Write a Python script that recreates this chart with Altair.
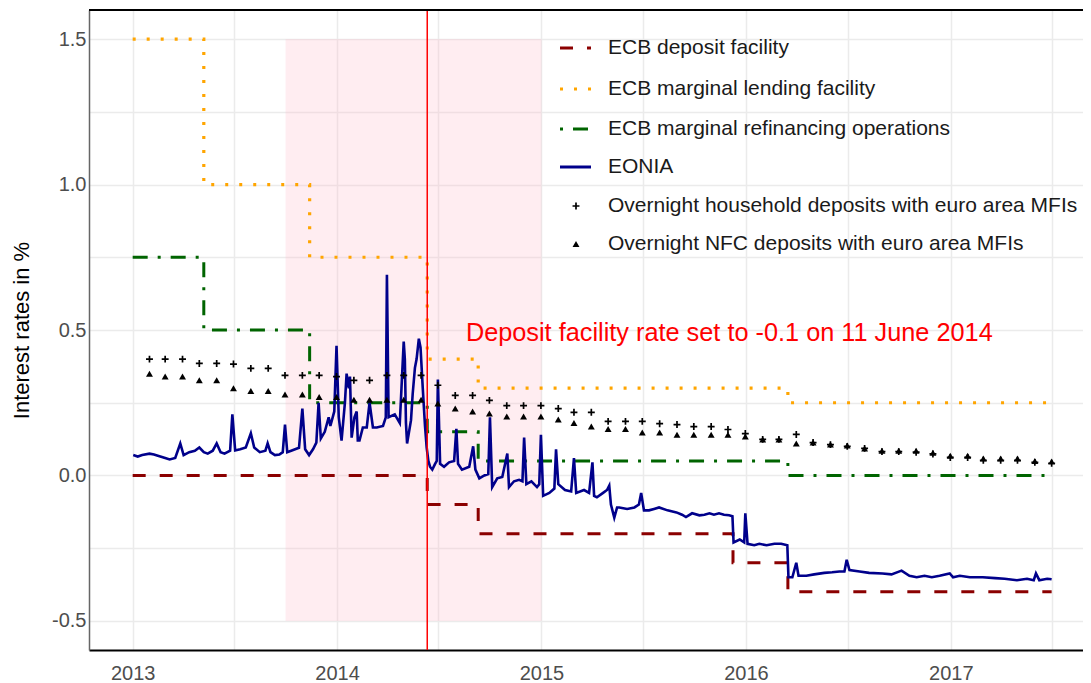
import altair as alt
import pandas as pd

# ---------------- data ----------------
policy_dates = ["2013-01-01", "2013-05-08", "2013-11-13", "2014-06-11",
                "2014-09-10", "2015-12-09", "2016-03-16", "2017-06-30"]
deposit_rate = [0.00, 0.00, 0.00, -0.10, -0.20, -0.30, -0.40, -0.40]
lending_rate = [1.50, 1.00, 0.75, 0.40, 0.30, 0.30, 0.25, 0.25]
mro_rate = [0.75, 0.50, 0.25, 0.15, 0.05, 0.05, 0.00, 0.00]

eonia_dates = [
    "2013-01-02", "2013-01-10", "2013-01-18", "2013-01-31", "2013-02-08", "2013-02-15",
    "2013-02-28", "2013-03-08", "2013-03-18", "2013-03-27", "2013-04-02", "2013-04-12",
    "2013-04-22", "2013-04-30", "2013-05-08", "2013-05-15", "2013-05-24", "2013-05-31",
    "2013-06-07", "2013-06-14", "2013-06-24", "2013-06-28", "2013-07-03", "2013-07-12",
    "2013-07-22", "2013-07-31", "2013-08-06", "2013-08-16", "2013-08-26", "2013-08-30",
    "2013-09-04", "2013-09-12", "2013-09-20", "2013-09-26", "2013-09-30", "2013-10-04",
    "2013-10-11", "2013-10-18", "2013-10-25", "2013-10-31", "2013-11-05", "2013-11-12",
    "2013-11-19", "2013-11-25", "2013-11-29", "2013-12-03", "2013-12-10", "2013-12-17",
    "2013-12-20", "2013-12-27", "2013-12-31", "2014-01-04", "2014-01-09", "2014-01-15",
    "2014-01-18", "2014-01-22", "2014-01-24", "2014-01-27", "2014-02-01", "2014-02-05",
    "2014-02-07", "2014-02-10", "2014-02-16", "2014-02-23", "2014-02-28", "2014-03-06",
    "2014-03-13", "2014-03-24", "2014-03-29", "2014-03-31", "2014-04-03", "2014-04-14",
    "2014-04-23", "2014-04-26", "2014-04-30", "2014-05-02", "2014-05-04", "2014-05-06",
    "2014-05-13", "2014-05-16", "2014-05-20", "2014-05-23", "2014-05-27", "2014-05-30",
    "2014-06-03", "2014-06-07", "2014-06-10", "2014-06-13", "2014-06-16", "2014-06-20",
    "2014-06-25", "2014-06-28", "2014-06-30", "2014-07-04", "2014-07-11", "2014-07-20",
    "2014-07-29", "2014-08-02", "2014-08-05", "2014-08-12", "2014-08-25", "2014-09-01",
    "2014-09-05", "2014-09-12", "2014-09-21", "2014-09-28", "2014-10-01", "2014-10-05",
    "2014-10-14", "2014-10-23", "2014-11-01", "2014-11-04", "2014-11-13", "2014-11-22",
    "2014-11-28", "2014-12-01", "2014-12-05", "2014-12-14", "2014-12-24", "2014-12-28",
    "2014-12-31", "2015-01-04", "2015-01-15", "2015-01-24", "2015-01-27", "2015-01-31",
    "2015-02-12", "2015-02-23", "2015-02-28", "2015-03-04", "2015-03-18", "2015-03-27",
    "2015-04-02", "2015-04-05", "2015-04-10", "2015-04-21", "2015-04-28", "2015-05-02",
    "2015-05-05", "2015-05-11", "2015-05-16", "2015-05-20", "2015-06-03", "2015-06-16",
    "2015-06-24", "2015-06-28", "2015-07-03", "2015-07-12", "2015-07-21", "2015-07-30",
    "2015-08-14", "2015-08-30", "2015-09-09", "2015-09-16", "2015-09-27", "2015-10-10",
    "2015-10-19", "2015-10-28", "2015-11-05", "2015-11-14", "2015-11-23", "2015-12-02",
    "2015-12-08", "2015-12-10", "2015-12-21", "2015-12-29", "2015-12-31", "2016-01-04",
    "2016-01-16", "2016-01-25", "2016-02-07", "2016-02-21", "2016-03-04", "2016-03-15",
    "2016-03-17", "2016-03-24", "2016-03-31", "2016-04-04", "2016-04-18", "2016-05-02",
    "2016-05-20", "2016-06-03", "2016-06-16", "2016-06-25", "2016-06-29", "2016-07-04",
    "2016-07-22", "2016-08-08", "2016-09-01", "2016-09-17", "2016-10-05", "2016-10-19",
    "2016-11-01", "2016-11-15", "2016-11-28", "2016-12-12", "2016-12-30", "2017-01-05",
    "2017-01-17", "2017-02-04", "2017-02-27", "2017-03-21", "2017-04-07", "2017-04-29",
    "2017-05-17", "2017-05-29", "2017-06-02", "2017-06-08", "2017-06-22", "2017-06-30",
]
eonia_values = [
    0.070, 0.065, 0.070, 0.075, 0.072, 0.068,
    0.060, 0.055, 0.060, 0.110, 0.070, 0.080,
    0.085, 0.096, 0.080, 0.075, 0.085, 0.110,
    0.080, 0.075, 0.085, 0.210, 0.086, 0.090,
    0.096, 0.145, 0.096, 0.080, 0.085, 0.110,
    0.080, 0.070, 0.072, 0.080, 0.175, 0.080,
    0.085, 0.090, 0.095, 0.230, 0.090, 0.070,
    0.090, 0.113, 0.250, 0.127, 0.150, 0.200,
    0.170, 0.220, 0.446, 0.200, 0.120, 0.250,
    0.350, 0.300, 0.340, 0.130, 0.200, 0.220,
    0.120, 0.120, 0.165, 0.165, 0.250, 0.165,
    0.165, 0.170, 0.200, 0.690, 0.200, 0.210,
    0.180, 0.300, 0.460, 0.400, 0.180, 0.110,
    0.190, 0.280, 0.370, 0.400, 0.470, 0.440,
    0.300, 0.170, 0.096, 0.050, 0.030, 0.020,
    0.040, 0.050, 0.330, 0.040, 0.030, 0.045,
    0.050, 0.160, 0.040, 0.020, 0.030, 0.100,
    0.020, -0.010, 0.000, 0.005, 0.200, -0.040,
    -0.010, -0.005, 0.075, -0.040, -0.020, -0.015,
    -0.020, 0.130, -0.030, -0.020, -0.040, -0.030,
    0.140, -0.070, -0.060, -0.045, 0.090, -0.030,
    -0.050, -0.055, 0.060, -0.060, -0.050, -0.060,
    0.045, -0.070, -0.075, -0.060, -0.050, -0.035,
    -0.100, -0.145, -0.110, -0.110, -0.115, -0.110,
    -0.100, -0.060, -0.120, -0.120, -0.115, -0.110,
    -0.120, -0.127, -0.135, -0.143, -0.130, -0.137,
    -0.135, -0.130, -0.135, -0.130, -0.135, -0.137,
    -0.140, -0.230, -0.220, -0.230, -0.130, -0.235,
    -0.240, -0.235, -0.240, -0.235, -0.235, -0.240,
    -0.350, -0.350, -0.300, -0.345, -0.345, -0.340,
    -0.335, -0.333, -0.330, -0.330, -0.290, -0.325,
    -0.330, -0.335, -0.337, -0.340, -0.327, -0.345,
    -0.350, -0.345, -0.350, -0.345, -0.337, -0.350,
    -0.345, -0.350, -0.350, -0.353, -0.355, -0.360,
    -0.355, -0.360, -0.337, -0.360, -0.355, -0.357,
]

month_ends = pd.date_range("2013-01-31", periods=54, freq=pd.offsets.MonthEnd())
household_rate = [
    0.400, 0.400, 0.400, 0.385, 0.385, 0.383, 0.368, 0.368, 0.344, 0.344,
    0.344, 0.340, 0.327, 0.327, 0.344, 0.344, 0.344, 0.310, 0.275, 0.275,
    0.258, 0.240, 0.240, 0.240, 0.230, 0.217, 0.217, 0.186, 0.186, 0.186,
    0.178, 0.175, 0.168, 0.168, 0.158, 0.144, 0.124, 0.124, 0.141, 0.113,
    0.106, 0.100, 0.093, 0.082, 0.082, 0.080, 0.074, 0.062, 0.062, 0.052,
    0.052, 0.052, 0.045, 0.042,
]
nfc_rate = [
    0.350, 0.340, 0.340, 0.327, 0.327, 0.300, 0.290, 0.290, 0.278, 0.278,
    0.270, 0.270, 0.260, 0.260, 0.260, 0.260, 0.260, 0.247, 0.230, 0.220,
    0.213, 0.203, 0.203, 0.203, 0.192, 0.180, 0.168, 0.160, 0.160, 0.148,
    0.148, 0.140, 0.140, 0.140, 0.140, 0.134, 0.124, 0.124, 0.110, 0.113,
    0.106, 0.103, 0.093, 0.085, 0.085, 0.085, 0.078, 0.068, 0.068, 0.058,
    0.058, 0.058, 0.050, 0.048,
]

shade_start = ["2013-10-01"]
shade_end = ["2015-01-01"]
shade_low = [-0.5]
shade_high = [1.5]
event_dates = ["2014-06-11"]
note_dates = ["2014-08-19"]
note_values = [0.49]
note_texts = ["Deposit facility rate set to -0.1 on 11 June 2014"]

legend_labels = [
    "ECB deposit facility",
    "ECB marginal lending facility",
    "ECB marginal refinancing operations",
    "EONIA",
    "Overnight household deposits with euro area MFIs",
    "Overnight NFC deposits with euro area MFIs",
]

# ---------------- frames ----------------
pdates = pd.to_datetime(policy_dates)
df_dep = pd.DataFrame({"date": pdates, "value": deposit_rate})
df_len = pd.DataFrame({"date": pdates, "value": lending_rate})
df_mro = pd.DataFrame({"date": pdates, "value": mro_rate})
df_eonia = pd.DataFrame({"date": pd.to_datetime(eonia_dates), "value": eonia_values})
df_hh = pd.DataFrame({"date": month_ends, "value": household_rate})
df_nfc = pd.DataFrame({"date": month_ends, "value": nfc_rate})
df_shade = pd.DataFrame({"start": pd.to_datetime(shade_start), "end": pd.to_datetime(shade_end),
                         "low": shade_low, "high": shade_high})
df_event = pd.DataFrame({"date": pd.to_datetime(event_dates)})
df_note = pd.DataFrame({"date": pd.to_datetime(note_dates), "value": note_values, "text": note_texts})

FONT = "Liberation Sans"
W, H = 994, 640
PLUS = "M-1,0H1M0,-1V1"

x_scale = alt.Scale(domain=[alt.DateTime(year=2012, month=10, date=15),
                            alt.DateTime(year=2017, month=8, date=25)])
y_scale = alt.Scale(domain=[-0.6, 1.6], nice=False, zero=False)

x_ticks = []
for yr in range(2013, 2018):
    x_ticks.append(alt.DateTime(year=yr, month=1, date=1))
    x_ticks.append(alt.DateTime(year=yr, month=7, date=1))

x_axis = alt.Axis(values=x_ticks,
                  labelExpr="month(datum.value) == 0 ? timeFormat(datum.value, '%Y') : ''",
                  ticks=False, tickSize=0, labelPadding=13, labelOverlap=False, labelFlush=False,
                  domainColor="black", domainWidth=2)
y_axis = alt.Axis(values=[-0.5, -0.25, 0, 0.25, 0.5, 0.75, 1.0, 1.25, 1.5],
                  labelExpr="abs(datum.value % 0.5) < 1e-9 ? (datum.value < 0 ? '-' : '') + format(abs(datum.value), '.1f') : ''",
                  ticks=False, tickSize=0, labelPadding=3, labelOverlap=False, labelFlush=False,
                  domainColor="#666666", domainWidth=1.5, titlePadding=18)
Y_TITLE = "Interest rates in %"


def X(field="date"):
    return alt.X(f"{field}:T", scale=x_scale, axis=x_axis, title=None)


def Y(field="value"):
    return alt.Y(f"{field}:Q", scale=y_scale, axis=y_axis, title=Y_TITLE)


shade = alt.Chart(df_shade).mark_rect(color="#FFC0CB", opacity=0.28).encode(
    x=X("start"), x2="end:T", y=Y("low"), y2="high:Q")

dep_line = alt.Chart(df_dep).mark_line(interpolate="step-after", color="#8B0000",
                                       strokeWidth=3, strokeDash=[13, 14]).encode(x=X(), y=Y())
len_line = alt.Chart(df_len).mark_line(interpolate="step-after", color="#FFA500",
                                       strokeWidth=3.2, strokeDash=[3, 11]).encode(x=X(), y=Y())
mro_line = alt.Chart(df_mro).mark_line(interpolate="step-after", color="#006400",
                                       strokeWidth=3, strokeDash=[15, 10, 3, 10]).encode(x=X(), y=Y())
eonia_line = alt.Chart(df_eonia).mark_line(color="#00008B", strokeWidth=2.6).encode(x=X(), y=Y())

hh_pts = alt.Chart(df_hh).mark_point(shape=PLUS, filled=False, color="black", size=48,
                                     strokeWidth=1.7, opacity=1).encode(x=X(), y=Y())
nfc_pts = alt.Chart(df_nfc).mark_point(shape="triangle-up", filled=True, color="black", size=48,
                                       opacity=1).encode(x=X(), y=Y())

event = alt.Chart(df_event).mark_rule(color="#FF0000", strokeWidth=1.5).encode(x=X())

note = alt.Chart(df_note).mark_text(align="left", baseline="middle", color="#FF0000",
                                    fontSize=25.3, font=FONT).encode(x=X(), y=Y(), text="text:N")

top_border = alt.Chart(pd.DataFrame({"k": [0]})).mark_rule(color="black", strokeWidth=2).encode(
    x=alt.value(0), x2=alt.value(W), y=alt.value(0))

# ---------------- legend (drawn inside the panel) ----------------
LX0, LX1, LXM, LXT = 471, 502, 487, 519
ROWS = [38, 79, 119, 157, 196, 234]
legend_layers = []
line_styles = [
    dict(color="#8B0000", strokeWidth=3, strokeDash=[13, 14]),
    dict(color="#FFA500", strokeWidth=3.2, strokeDash=[3, 11]),
    dict(color="#006400", strokeWidth=3, strokeDash=[15, 10, 3, 10], strokeDashOffset=25),
    dict(color="#00008B", strokeWidth=3),
]
for i, sty in enumerate(line_styles):
    legend_layers.append(
        alt.Chart(pd.DataFrame({"k": [i]})).mark_rule(**sty).encode(
            x=alt.value(LX0), x2=alt.value(LX1), y=alt.value(ROWS[i])))
legend_layers.append(
    alt.Chart(pd.DataFrame({"k": [4]})).mark_point(shape=PLUS, filled=False, color="black",
                                                   size=48, strokeWidth=1.7, opacity=1).encode(
        x=alt.value(LXM), y=alt.value(ROWS[4])))
legend_layers.append(
    alt.Chart(pd.DataFrame({"k": [5]})).mark_point(shape="triangle-up", filled=True, color="black",
                                                   size=48, opacity=1).encode(
        x=alt.value(LXM), y=alt.value(ROWS[5])))
for i, lab in enumerate(legend_labels):
    legend_layers.append(
        alt.Chart(pd.DataFrame({"label": [lab]})).mark_text(
            align="left", baseline="middle", fontSize=21, font=FONT, color="#1a1a1a").encode(
            x=alt.value(LXT), y=alt.value(ROWS[i]), text="label:N"))

chart = alt.layer(
    shade, dep_line, len_line, mro_line, eonia_line, hh_pts, nfc_pts, event, note, top_border,
    *legend_layers
).properties(
    width=W, height=H,
    padding={"left": 81, "top": 2, "right": 0, "bottom": 32},
    autosize=alt.AutoSizeParams(type="none"),
).configure(
    font=FONT,
).configure_view(
    stroke=None,
).configure_axis(
    grid=True, gridColor="#EBEBEB", gridWidth=1.5,
    labelFont=FONT, labelFontSize=20, labelColor="#4D4D4D",
    titleFont=FONT, titleFontSize=22, titleFontWeight="normal", titleColor="black",
)

chart.save("out.html", embed_options={"renderer": "svg", "actions": False})
